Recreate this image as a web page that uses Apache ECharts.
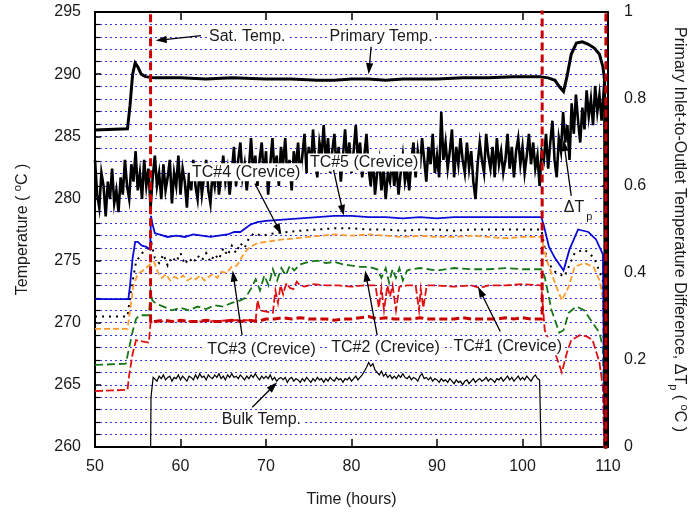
<!DOCTYPE html>
<html><head><meta charset="utf-8">
<script src="https://cdn.jsdelivr.net/npm/echarts@6/dist/echarts.min.js"></script>
<style>html,body{margin:0;padding:0;background:#fff}#c{width:698px;height:515px}</style>
</head><body><div id="c"></div>
<script>
// ---------- DATA ----------
const primaryTime = [50, 53.8, 54.1, 54.4, 54.7, 55.0, 55.4, 55.9, 57, 60, 63, 66, 70, 73, 76, 78, 80, 82, 84, 86, 88, 90, 93, 96, 99, 102, 103, 103.8, 104.3, 104.8, 105.2, 105.7, 106.3, 107.0, 107.7, 108.4, 109.0, 109.4, 109.6, 109.7];
const primaryVals = [285.5, 285.6, 287.5, 290.0, 290.9, 290.6, 290.0, 289.8, 289.7, 289.7, 289.6, 289.7, 289.6, 289.6, 289.5, 289.5, 289.6, 289.6, 289.5, 289.6, 289.6, 289.6, 289.7, 289.7, 289.8, 289.8, 289.7, 289.5, 289.0, 288.6, 289.8, 291.6, 292.5, 292.6, 292.4, 292.1, 291.6, 290.6, 289.5, 255];

// Primary inlet-to-outlet temperature difference (right axis), sampled every 0.25 h from 50 h
const dtStart = 50, dtStep = 0.25;
const dtVals = [
  0.66,0.58,0.55,0.63, 0.60,0.53,0.61,0.57, 0.64,0.56,0.59,0.54, 0.62,0.58,0.66,0.60,
  0.57,0.65,0.61,0.68, 0.59,0.63,0.57,0.66, 0.60,0.64,0.55,0.62, 0.67,0.60,0.63,0.57,
  0.65,0.59,0.62,0.66, 0.56,0.63,0.60,0.67, 0.58,0.64,0.61,0.55, 0.63,0.59,0.66,0.60,
  0.57,0.64,0.58,0.62, 0.66,0.59,0.56,0.63, 0.60,0.65,0.58,0.62, 0.67,0.61,0.64,0.58,
  0.63,0.69,0.60,0.66, 0.70,0.62,0.65,0.59, 0.64,0.71,0.63,0.67, 0.60,0.66,0.70,0.62,
  0.68,0.58,0.65,0.71, 0.63,0.67,0.60,0.69, 0.65,0.71,0.62,0.66, 0.59,0.68,0.64,0.70,
  0.62,0.67,0.72,0.63, 0.69,0.64,0.73,0.66, 0.62,0.70,0.67,0.74, 0.65,0.71,0.63,0.68,
  0.72,0.64,0.69,0.61, 0.67,0.73,0.65,0.70, 0.63,0.68,0.74,0.66, 0.70,0.62,0.67,0.72,
  0.64,0.60,0.67,0.58, 0.63,0.66,0.59,0.64, 0.57,0.63,0.61,0.66, 0.60,0.65,0.58,0.63,
  0.67,0.61,0.64,0.59, 0.66,0.70,0.62,0.68, 0.64,0.71,0.66,0.61, 0.69,0.65,0.72,0.63,
  0.67,0.62,0.77,0.66, 0.70,0.64,0.68,0.73, 0.62,0.69,0.65,0.71, 0.66,0.63,0.70,0.64,
  0.68,0.61,0.57,0.65, 0.70,0.66,0.63,0.72, 0.67,0.64,0.69,0.62, 0.71,0.65,0.68,0.63,
  0.66,0.72,0.64,0.69, 0.62,0.68,0.71,0.65, 0.69,0.63,0.67,0.72, 0.65,0.70,0.64,0.67,
  0.60,0.68,0.66,0.72, 0.64,0.70,0.75,0.66, 0.62,0.71,0.68,0.77, 0.70,0.74,0.66,0.79,
  0.72,0.81,0.75,0.70, 0.78,0.73,0.82,0.76, 0.80,0.74,0.83,0.77, 0.81,0.75,0.82,0.79];
const dtEndTime = [109.8];
const dtEndVals = [-0.1];

// Bulk temperature
const bulkStartTime = [56.5, 56.55, 56.8];
const bulkStartVals = [259, 264.0, 265.6];
const bulkStart = 57, bulkStep = 0.25;
const bulkVals = [
  265.6,265.3,265.7,265.5, 265.8,265.4,265.6,265.7, 265.3,265.6,265.5,265.8, 265.4,265.7,265.5,265.3,
  265.7,265.6,265.4,265.8, 265.5,265.9,265.6,265.7, 265.4,265.8,265.6,265.5, 265.8,265.6,265.9,265.5,
  265.7,265.4,265.8,265.6, 265.9,265.6,265.7,265.5, 265.8,265.6,265.4,265.7, 265.5,265.8,265.6,265.9,
  265.6,265.4,265.7,265.5, 265.7,265.5,265.8,265.4, 265.6,265.3,265.5,265.6, 265.4,265.6,265.2,265.5,
  265.6,265.3,265.5,265.4, 265.2,265.5,265.3,265.6, 265.4,265.2,265.5,265.3, 265.6,265.4,265.5,265.2,
  265.5,265.3,265.6,265.4, 265.3,265.6,265.4,265.5, 265.2,265.5,265.4,265.6, 265.3,265.5,265.7,265.4,
  265.6,265.8,266.1,266.4, 266.8,266.5,266.7,266.2, 266.0,265.8,266.1,265.7, 265.9,265.6,265.8,265.5,
  265.7,265.5,265.8,265.6, 265.9,265.6,265.5,265.7, 265.4,265.6,265.5,265.3, 265.7,265.9,265.5,265.6,
  265.4,265.6,265.3,265.5, 265.4,265.2,265.5,265.3, 265.4,265.2,265.5,265.3, 265.1,265.4,265.2,265.3,
  265.0,265.3,265.4,265.1, 265.3,265.5,265.2,265.4, 265.5,265.3,265.4,265.6, 265.3,265.5,265.4,265.2,
  265.5,265.4,265.6,265.3, 265.5,265.7,265.4,265.6, 265.3,265.5,265.7,265.4, 265.6,265.4,265.7,265.5,
  265.3,265.6,265.8,265.5, 265.4];
const bulkEndTime = [102.2, 102.2];
const bulkEndVals = [265.4, 259];

// Saturation temperature (off scale outside 56.5 - 102.3 h)
const satHeadTime = [50, 56.5, 56.5];
const satHeadVals = [300, 300, 270.0];
const satStart = 57, satStep = 1;
const satVals = [270.1,270.2,270.1,270.2,270.1,270.1,270.2,270.1,270.1,270.2,270.1,270.2,270.1,270.3,270.3,270.4,270.3,270.4,270.3,270.3,
  270.3,270.2,270.3,270.3,270.4,270.5,270.3,270.4,270.3,270.3,270.3,270.4,270.3,270.3,270.3,270.3,270.4,270.3,270.3,270.3,
  270.3,270.4,270.3,270.4,270.3,270.3];
const satTailTime = [102.3, 102.3, 109.75, 109.75];
const satTailVals = [270.3, 300, 300, 255];

// TC#1 (Crevice)
const tc1Time = [50,53.8,54.0,54.4,54.8,55.5,56.3,56.5,57,60,63,66,68.8,69.0,69.3,70.0,70.8,71.1,71.4,71.7,72.0,72.4,72.8,73.2,73.6,74.0,74.5,75.5,77,78.5,80,81.5,82.8,83.2,83.5,83.8,84.2,84.5,84.8,85.2,85.6,86.5,87.5,87.9,88.1,88.4,88.8,90,92,94,95,96,98,100,102.2,102.6,103.2,103.8,104.6,105.2,105.7,106.7,107.5,108.2,109.0,109.4,109.7];
const tc1Vals = [264.5,264.6,265.8,267.5,268.6,268.5,268.4,270.0,270.1,270.1,270.1,270.2,270.2,271.8,271.0,270.9,270.8,272.6,271.6,273.0,272.3,273.2,272.8,272.7,273.3,273.0,272.9,273.1,273.0,273.0,272.9,273.0,273.0,271.2,272.8,271.0,273.0,272.1,273.0,271.0,272.9,273.0,273.0,271.0,272.7,271.2,273.0,273.0,272.9,273.0,272.8,273.0,273.0,273.1,273.0,269.4,268.4,267.6,266.0,267.6,268.6,269.0,268.9,268.6,266.8,264.8,255];

// TC#2 (Crevice)
const tc2Time = [50,53.6,54.0,54.4,54.8,55.2,56.3,56.5,56.7,57.2,58,59,60,61,62,63,64,65,66,67,67.6,68.3,68.8,69.3,69.8,70.3,70.8,71.3,71.8,72.3,72.8,73.3,74,75,76,77,78,79,80,81,82,83,83.5,84,84.4,84.8,85.2,85.6,86,86.5,87,88,90,92,94,96,98,100,102.2,102.6,103.4,104.3,104.8,105.4,106.3,107.2,108.0,109.0,109.4,109.7];
const tc2Vals = [266.6,266.7,268.0,269.3,270.3,270.6,270.6,272.5,271.8,271.5,271.3,271.0,271.2,271.0,271.3,271.1,271.4,271.3,271.6,271.8,272.0,272.8,273.5,272.6,273.8,273.0,274.3,273.4,274.4,273.8,274.6,274.2,274.7,274.9,275.0,274.8,274.9,274.7,274.6,274.5,274.5,274.3,273.6,274.4,273.2,274.3,273.6,274.4,273.4,274.2,274.3,274.4,274.2,274.4,274.3,274.3,274.4,274.3,274.3,273.7,271.0,269.2,269.4,270.8,271.3,271.0,270.2,269.2,268.0,255];

// TC#3 (Crevice)
const tc3Time = [50,53.8,54.1,54.5,55.0,55.6,56.3,56.5,56.9,57.4,57.8,58.3,58.8,59.3,59.8,60.3,60.8,61.3,61.8,62.3,62.8,63.3,63.8,64.3,64.8,65.4,66.0,66.6,67.2,67.8,68.4,69,70,71,72,73.6,75,76.5,78,80,82,84,86,88,90,92,94,96,98,100,102.2,102.9,103.8,104.6,105.4,106.1,107.2,108.3,109.0,109.4,109.7];
const tc3Vals = [269.5,269.5,271.0,273.0,273.9,274.2,274.6,274.7,274.9,274.0,273.6,273.9,273.4,273.7,273.5,273.8,273.4,273.6,273.5,273.8,273.4,273.7,273.9,273.6,274.1,274.0,274.5,274.6,275.3,275.9,276.2,276.4,276.5,276.6,276.7,276.8,276.9,277.0,277.1,277.0,277.1,277.0,276.9,277.0,276.9,276.9,277.0,276.9,276.8,276.9,276.9,274.9,273.2,271.8,272.9,274.5,274.8,274.5,273.4,272.0,255];

// TC#4 (Crevice)
const tc4Time = [50,53.8,54.2,54.8,55.5,56.3,56.6,57,57.5,58,58.5,59,59.5,60,60.5,61,61.5,62,62.5,63,63.5,64,64.5,65,65.5,66,66.5,67,67.5,68,68.6,69.5,71,72.5,74,76,78,80,82,84,86,88,90,92,94,96,98,100,102.2,102.9,103.8,104.9,106.1,107.2,108.4,109.4,109.7];
const tc4Vals = [270.5,270.5,272.5,274.9,275.6,276.0,276.4,275.2,274.8,275.5,274.6,275.3,274.9,275.6,274.7,275.2,274.8,275.4,275.0,275.6,274.9,275.5,275.1,276.0,275.4,276.2,275.6,276.4,276.0,276.8,277.2,277.0,277.2,277.3,277.4,277.5,277.6,277.6,277.5,277.5,277.4,277.5,277.5,277.4,277.5,277.5,277.5,277.5,277.5,274.9,274.1,273.7,275.6,275.9,275.2,273.4,255];

// TC#5 (Crevice)
const tc5Time = [50,53.9,54.1,54.4,54.7,55.0,55.5,56.0,56.45,56.55,56.7,57.0,57.5,58.5,59.5,60.5,61.5,62.5,63.5,64.5,65.5,66.3,67.0,67.6,68.2,69,70,72,74,76,78,79,80,82,84,86,88,90,92,94,96,98,100,102.2,102.5,103.1,103.8,104.8,105.5,106.5,107.7,108.6,109.4,109.7];
const tc5Vals = [271.9,271.9,273.0,275.2,276.5,276.5,276.2,276.1,275.9,278.6,278.0,277.2,277.1,276.9,277.0,276.9,277.1,277.0,276.9,277.0,277.1,277.3,277.3,277.6,277.9,278.1,278.2,278.3,278.4,278.5,278.6,278.6,278.6,278.5,278.5,278.4,278.5,278.4,278.5,278.5,278.5,278.5,278.5,278.5,277.8,276.1,275.2,274.2,275.9,277.5,277.3,276.7,275.5,255];

// Axis ticks
const xTicks = {min: 50, max: 110, step: 10};
const yLeftTicks = {min: 260, max: 295, step: 5};
const yRightTicks = {min: 0, max: 1, step: 0.2};

// Annotations (data coordinates on left axis)
const annLabels = ['Sat. Temp.', 'Primary Temp.', 'TC#4 (Crevice)', 'TC#5 (Crevice)', 'TC#3 (Crevice)', 'TC#2 (Crevice)', 'TC#1 (Crevice)', 'Bulk Temp.'];
const annLabelPos = [[63.1,293.0],[77.2,293.0],[61.1,282.1],[74.9,282.9],[62.9,267.8],[77.4,268.0],[91.7,268.1],[64.6,262.2]];
const annArrowFrom = [[62.4,293.1],[82.3,292.2],[68.7,281.2],[77.9,282.3],[67.2,269.0],[83.0,269.0],[97.4,269.3],[68.4,263.2],[105.7,280.2]];
const annArrowTo   = [[57.1,292.7],[82.0,290.0],[71.8,277.1],[79.1,278.6],[66.1,274.2],[81.6,274.2],[94.8,272.9],[71.3,265.2],[104.8,284.7]];
const dtLabelPos = [104.6, 279.3];

// ---------- BUILD ----------
const FONT = '"Liberation Sans", Arial, Helvetica, sans-serif';
function pairs(t, v) { return t.map((x, i) => [x, v[i]]); }
function regular(start, step, v) { return v.map((y, i) => [+(start + i * step).toFixed(3), y]); }

const dtData = regular(dtStart, dtStep, dtVals).concat(pairs(dtEndTime, dtEndVals));
const bulkData = pairs(bulkStartTime, bulkStartVals).concat(regular(bulkStart, bulkStep, bulkVals), pairs(bulkEndTime, bulkEndVals));
const satData = pairs(satHeadTime, satHeadVals).concat(regular(satStart, satStep, satVals), pairs(satTailTime, satTailVals));

const gridColor = '#3434f0';
const axisCommon = {
  axisLine: {show: true, onZero: false, lineStyle: {color: '#000', width: 2}},
  axisLabel: {color: '#1a1a1a', fontSize: 16, fontFamily: FONT},
  nameTextStyle: {color: '#1a1a1a', fontSize: 16, fontFamily: FONT}
};

function lineSeries(name, data, color, width, type, z, yIdx) {
  return {
    name, type: 'line', data, yAxisIndex: yIdx || 0, showSymbol: false, symbol: 'none',
    clip: true, animation: false, z: z || 2,
    lineStyle: {color, width, type: type || 'solid', cap: 'butt', join: 'miter'}
  };
}

const option = {
  animation: false,
  backgroundColor: '#fff',
  grid: {left: 95, right: 81, top: 12, bottom: 68, containLabel: false},
  xAxis: [
    Object.assign({}, axisCommon, {
      type: 'value', min: xTicks.min, max: xTicks.max, interval: xTicks.step, position: 'bottom',
      axisTick: {show: true, inside: true, length: 8, lineStyle: {color: '#000', width: 1.5}},
      axisLabel: Object.assign({}, axisCommon.axisLabel, {margin: 12}),
      splitLine: {show: false},
      name: 'Time (hours)', nameLocation: 'middle', nameGap: 45
    }),
    Object.assign({}, axisCommon, {
      type: 'value', min: xTicks.min, max: xTicks.max, interval: xTicks.step, position: 'top',
      axisTick: {show: true, inside: true, length: 8, lineStyle: {color: '#000', width: 1.5}},
      axisLabel: {show: false}, splitLine: {show: false}
    })
  ],
  yAxis: [
    Object.assign({}, axisCommon, {
      type: 'value', min: yLeftTicks.min, max: yLeftTicks.max, interval: yLeftTicks.step, position: 'left',
      axisTick: {show: true, inside: true, length: 6, lineStyle: {color: '#000', width: 1.5}},
      minorTick: {show: true, splitNumber: 5, length: 5, lineStyle: {color: '#000', width: 1.2}},
      splitLine: {show: true, lineStyle: {color: gridColor, width: 1, type: [2, 3]}},
      minorSplitLine: {show: true, lineStyle: {color: gridColor, width: 1, type: [2, 3]}},
      axisLabel: Object.assign({}, axisCommon.axisLabel, {margin: 14}),
      name: 'Temperature ( {sup|o}C )', nameLocation: 'middle', nameGap: 61,
      nameTextStyle: Object.assign({}, axisCommon.nameTextStyle, {
        lineHeight: 22,
        rich: {sup: {fontSize: 11, fontFamily: FONT, color: '#1a1a1a', verticalAlign: 'top', lineHeight: 14}}
      })
    }),
    Object.assign({}, axisCommon, {
      type: 'value', min: yRightTicks.min, max: yRightTicks.max, interval: yRightTicks.step, position: 'right',
      axisTick: {show: true, inside: true, length: 6, lineStyle: {color: '#000', width: 1.5}},
      splitLine: {show: false},
      axisLabel: Object.assign({}, axisCommon.axisLabel, {margin: 16}),
      name: 'Primary Inlet-to-Outlet Temperature Difference, ΔT{sub|p} ( {sup|o}C )',
      nameLocation: 'middle', nameGap: 60, nameRotate: -90,
      nameTextStyle: Object.assign({}, axisCommon.nameTextStyle, {
        lineHeight: 22,
        rich: {
          sup: {fontSize: 11, fontFamily: FONT, color: '#1a1a1a', verticalAlign: 'top', lineHeight: 14},
          sub: {fontSize: 11, fontFamily: FONT, color: '#1a1a1a', verticalAlign: 'bottom', lineHeight: 14}
        }
      })
    })
  ],
  series: [
    lineSeries('TC#4 (Crevice)', pairs(tc4Time, tc4Vals), '#000000', 2, [2, 5], 2),
    lineSeries('TC#3 (Crevice)', pairs(tc3Time, tc3Vals), '#ff9a2e', 1.8, [6, 3], 3),
    lineSeries('TC#2 (Crevice)', pairs(tc2Time, tc2Vals), '#167516', 1.8, [8, 4], 3),
    lineSeries('TC#1 (Crevice)', pairs(tc1Time, tc1Vals), '#e01010', 1.8, [8, 3], 3),
    lineSeries('TC#5 (Crevice)', pairs(tc5Time, tc5Vals), '#0a0ad8', 1.8, 'solid', 4),
    lineSeries('Bulk Temp.', bulkData, '#000000', 1.2, 'solid', 4),
    lineSeries('ΔTp', dtData, '#000000', 2.6, 'solid', 5, 1),
    lineSeries('Primary Temp.', pairs(primaryTime, primaryVals), '#000000', 3, 'solid', 5),
    lineSeries('Sat. Temp.', satData, '#c80000', 3, [8, 4], 6)
  ]
};

const chart = echarts.init(document.getElementById('c'), null, {renderer: 'canvas'});
chart.setOption(option);

// ---------- ANNOTATIONS ----------
const toPx = p => chart.convertToPixel({xAxisIndex: 0, yAxisIndex: 0}, p);
const graphics = [];
annLabels.forEach((txt, i) => {
  const p = toPx(annLabelPos[i]);
  graphics.push({
    type: 'text', z: 100, silent: true,
    style: {text: txt, x: p[0], y: p[1], fill: '#1a1a1a', fontSize: 16, fontFamily: FONT,
      align: 'left', verticalAlign: 'middle', backgroundColor: '#fff', padding: [1, 2]}
  });
});
{
  const p = toPx(dtLabelPos);
  graphics.push({
    type: 'text', z: 100, silent: true,
    style: {text: 'ΔT{sub|p}', x: p[0], y: p[1], fill: '#1a1a1a', fontSize: 16, fontFamily: FONT,
      align: 'left', verticalAlign: 'middle', backgroundColor: '#fff', padding: [1, 2],
      lineHeight: 20,
      rich: {sub: {fontSize: 11, fontFamily: FONT, fill: '#1a1a1a', verticalAlign: 'bottom', lineHeight: 30, padding: [0, 0, 0, 2]}}}
  });
}
annArrowFrom.forEach((f, i) => {
  const a = toPx(f), b = toPx(annArrowTo[i]);
  const dx = b[0] - a[0], dy = b[1] - a[1];
  const L = Math.sqrt(dx * dx + dy * dy), ux = dx / L, uy = dy / L;
  const hl = 11, hw = 3.6;
  const bx = b[0] - ux * hl, by = b[1] - uy * hl;
  graphics.push({type: 'line', z: 101, silent: true,
    shape: {x1: a[0], y1: a[1], x2: bx + ux * 2, y2: by + uy * 2},
    style: {stroke: '#000', lineWidth: 1.3}});
  graphics.push({type: 'polygon', z: 101, silent: true,
    shape: {points: [[b[0], b[1]], [bx - uy * hw, by + ux * hw], [bx + uy * hw, by - ux * hw]]},
    style: {fill: '#000'}});
});
chart.setOption({graphic: graphics});
</script>
</body></html>
